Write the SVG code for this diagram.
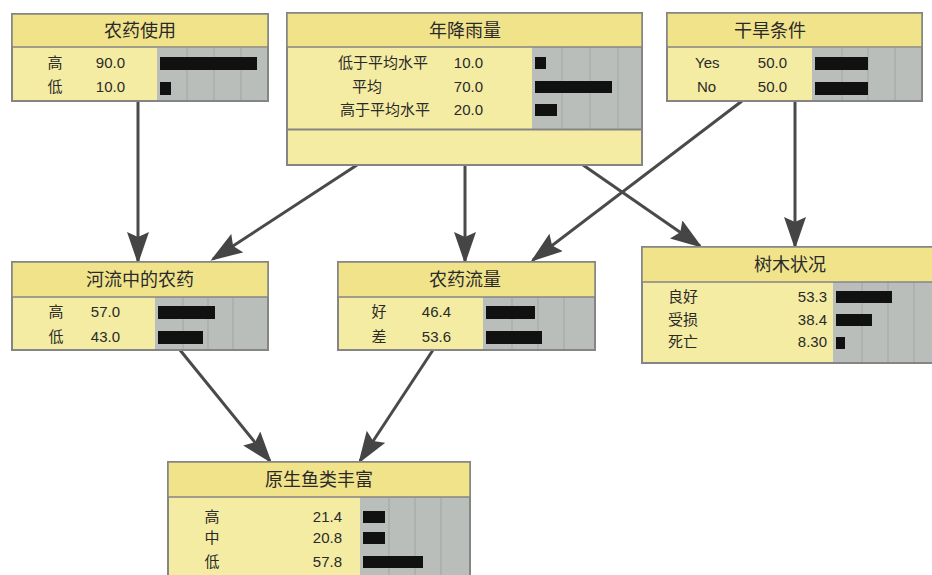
<svg xmlns="http://www.w3.org/2000/svg" width="932" height="575" viewBox="0 0 932 575">
<defs>
<style>
.frame{fill:#f4eca2;stroke:#858585;stroke-width:2}
.title{fill:#f1e38a;stroke:#858585;stroke-width:1.5}
.gray{fill:#babeba}
.grid{stroke:#a2a6a2;stroke-width:1}
.bar{fill:#111}
.tt{font-family:"Liberation Sans","Noto Sans CJK SC",sans-serif;font-size:18px;fill:#2a2a2a;text-anchor:middle}
.lb{font-family:"Liberation Sans","Noto Sans CJK SC",sans-serif;font-size:15px;fill:#2a2a2a}
.v{text-anchor:end}
.c{text-anchor:middle}
.edge{stroke:#4a4a4a;stroke-width:3;fill:none;marker-end:url(#ah)}
</style>
<marker id="ah" markerUnits="userSpaceOnUse" viewBox="0 0 32 22" markerWidth="32" markerHeight="22" refX="29" refY="11" orient="auto">
<path d="M0,0 L32,11 L0,22 L5,11 z" fill="#454545"/>
</marker>
</defs>
<rect width="932" height="575" fill="#fff"/>

<g id="connectors">
<line class="edge" x1="138" y1="101" x2="138" y2="261"/>
<line class="edge" x1="357" y1="165" x2="213" y2="259"/>
<line class="edge" x1="465" y1="165" x2="465" y2="261"/>
<line class="edge" x1="583" y1="165" x2="700" y2="246"/>
<line class="edge" x1="742" y1="101" x2="533" y2="260"/>
<line class="edge" x1="795" y1="101" x2="795" y2="246"/>
<line class="edge" x1="180" y1="350" x2="270" y2="461"/>
<line class="edge" x1="433" y1="350" x2="360" y2="461"/>
</g>

<g id="n-pesticide-use">
<rect class="frame" x="12" y="14" width="256" height="87"/>
<rect class="gray" x="157" y="48" width="110" height="52"/>
<line class="grid" x1="187" y1="48" x2="187" y2="100"/><line class="grid" x1="214" y1="48" x2="214" y2="100"/><line class="grid" x1="241" y1="48" x2="241" y2="100"/>
<rect class="title" x="12" y="14" width="256" height="33"/>
<text class="tt" x="140" y="37">农药使用</text>
<text class="lb c" x="55" y="68">高</text><text class="lb v" x="125" y="68">90.0</text>
<text class="lb c" x="55" y="92">低</text><text class="lb v" x="125" y="92">10.0</text>
<rect class="bar" x="160" y="57" width="97" height="13"/>
<rect class="bar" x="160" y="82" width="11" height="13"/>
</g>

<g id="n-rainfall">
<rect class="frame" x="287" y="13" width="355" height="152"/>
<rect class="gray" x="532" y="47" width="109" height="82"/>
<line class="grid" x1="562" y1="47" x2="562" y2="129"/><line class="grid" x1="590" y1="47" x2="590" y2="129"/><line class="grid" x1="618" y1="47" x2="618" y2="129"/>
<line x1="287" y1="129.5" x2="642" y2="129.5" stroke="#858585" stroke-width="2"/>
<rect class="title" x="287" y="13" width="355" height="34"/>
<text class="tt" x="465" y="37">年降雨量</text>
<text class="lb" x="338" y="68">低于平均水平</text><text class="lb v" x="483" y="68">10.0</text>
<text class="lb" x="352" y="92">平均</text><text class="lb v" x="483" y="92">70.0</text>
<text class="lb" x="340" y="115">高于平均水平</text><text class="lb v" x="483" y="115">20.0</text>
<rect class="bar" x="535" y="57" width="11" height="12"/>
<rect class="bar" x="535" y="81" width="77" height="12"/>
<rect class="bar" x="535" y="104" width="22" height="12"/>
</g>

<g id="n-drought">
<rect class="frame" x="667" y="13" width="255" height="88"/>
<rect class="gray" x="812" y="48" width="109" height="52"/>
<line class="grid" x1="842" y1="48" x2="842" y2="100"/><line class="grid" x1="868" y1="48" x2="868" y2="100"/><line class="grid" x1="895" y1="48" x2="895" y2="100"/>
<rect class="title" x="667" y="13" width="255" height="34"/>
<text class="tt" x="770" y="37">干旱条件</text>
<text class="lb" x="695" y="68">Yes</text><text class="lb v" x="787" y="68">50.0</text>
<text class="lb" x="697" y="92">No</text><text class="lb v" x="787" y="92">50.0</text>
<rect class="bar" x="815" y="57" width="53" height="13"/>
<rect class="bar" x="815" y="82" width="53" height="13"/>
</g>

<g id="n-river-pesticide">
<rect class="frame" x="12" y="262" width="256" height="88"/>
<rect class="gray" x="155" y="297" width="112" height="52"/>
<line class="grid" x1="183" y1="297" x2="183" y2="349"/><line class="grid" x1="208" y1="297" x2="208" y2="349"/><line class="grid" x1="233" y1="297" x2="233" y2="349"/>
<rect class="title" x="12" y="262" width="256" height="35"/>
<text class="tt" x="140" y="286">河流中的农药</text>
<text class="lb c" x="56" y="317">高</text><text class="lb v" x="120" y="317">57.0</text>
<text class="lb c" x="56" y="342">低</text><text class="lb v" x="120" y="342">43.0</text>
<rect class="bar" x="158" y="306" width="57" height="13"/>
<rect class="bar" x="158" y="331" width="45" height="13"/>
</g>

<g id="n-runoff">
<rect class="frame" x="338" y="262" width="257" height="88"/>
<rect class="gray" x="483" y="297" width="111" height="52"/>
<line class="grid" x1="512" y1="297" x2="512" y2="349"/><line class="grid" x1="538" y1="297" x2="538" y2="349"/><line class="grid" x1="564" y1="297" x2="564" y2="349"/>
<rect class="title" x="338" y="262" width="257" height="35"/>
<text class="tt" x="465" y="286">农药流量</text>
<text class="lb c" x="379" y="317">好</text><text class="lb v" x="451" y="317">46.4</text>
<text class="lb c" x="379" y="342">差</text><text class="lb v" x="451" y="342">53.6</text>
<rect class="bar" x="486" y="306" width="49" height="13"/>
<rect class="bar" x="486" y="331" width="56" height="13"/>
</g>

<g id="n-tree">
<rect class="frame" x="642" y="247" width="300" height="116"/>
<rect class="gray" x="833" y="282" width="108" height="80"/>
<line class="grid" x1="862" y1="282" x2="862" y2="362"/><line class="grid" x1="888" y1="282" x2="888" y2="362"/><line class="grid" x1="914" y1="282" x2="914" y2="362"/>
<rect class="title" x="642" y="247" width="300" height="35"/>
<text class="tt" x="790" y="271">树木状况</text>
<text class="lb" x="668" y="302">良好</text><text class="lb v" x="827" y="302">53.3</text>
<text class="lb" x="668" y="325">受损</text><text class="lb v" x="827" y="325">38.4</text>
<text class="lb" x="668" y="347">死亡</text><text class="lb v" x="827" y="347">8.30</text>
<rect class="bar" x="836" y="291" width="56" height="12"/>
<rect class="bar" x="836" y="314" width="36" height="12"/>
<rect class="bar" x="836" y="337" width="9" height="12"/>
</g>

<g id="n-fish">
<rect class="frame" x="168" y="462" width="302" height="130"/>
<rect class="gray" x="360" y="497" width="109" height="94"/>
<line class="grid" x1="389" y1="497" x2="389" y2="591"/><line class="grid" x1="415" y1="497" x2="415" y2="591"/><line class="grid" x1="441" y1="497" x2="441" y2="591"/>
<rect class="title" x="168" y="462" width="302" height="35"/>
<text class="tt" x="319" y="486">原生鱼类丰富</text>
<text class="lb c" x="212" y="522">高</text><text class="lb v" x="342" y="522">21.4</text>
<text class="lb c" x="212" y="543">中</text><text class="lb v" x="342" y="543">20.8</text>
<text class="lb c" x="212" y="567">低</text><text class="lb v" x="342" y="567">57.8</text>
<rect class="bar" x="363" y="511" width="22" height="12"/>
<rect class="bar" x="363" y="532" width="22" height="12"/>
<rect class="bar" x="363" y="556" width="60" height="12"/>
</g>
</svg>
